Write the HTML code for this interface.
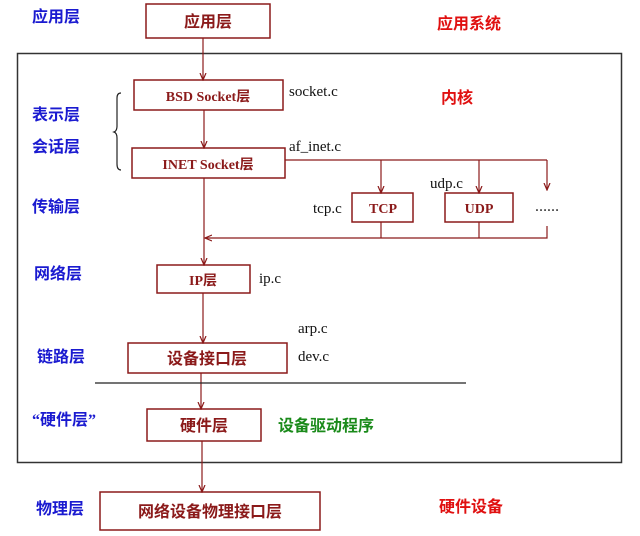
<!DOCTYPE html>
<html><head><meta charset="utf-8"><style>
html,body{margin:0;padding:0;background:#fff;}
svg{display:block;}
.cb{font-family:"Liberation Serif","Noto Sans CJK SC",sans-serif;font-weight:bold;}
.f{font-family:"Liberation Serif",serif;font-size:15px;fill:#111;}
</style></head><body>
<svg width="640" height="536" viewBox="0 0 640 536" xmlns="http://www.w3.org/2000/svg">
<defs><marker id="a" markerWidth="8" markerHeight="8" refX="7" refY="4" orient="auto" markerUnits="userSpaceOnUse"><path d="M0,1 L7,4 L0,7" fill="none" stroke="#8b1a1a" stroke-width="1.2"/></marker></defs>
<rect x="17.5" y="53.5" width="604" height="409" fill="none" stroke="#333" stroke-width="1.5"/>
<g fill="none" stroke="#8b1a1a" stroke-width="1.5">
<rect x="146" y="4" width="124" height="34"/>
<rect x="134" y="80" width="149" height="30"/>
<rect x="132" y="148" width="153" height="30"/>
<rect x="352" y="193" width="61" height="29"/>
<rect x="445" y="193" width="68" height="29"/>
<rect x="157" y="265" width="93" height="28"/>
<rect x="128" y="343" width="159" height="30"/>
<rect x="147" y="409" width="114" height="32"/>
<rect x="100" y="492" width="220" height="38"/>
</g>
<g stroke="#8b1a1a" stroke-width="1.2" fill="none">
<line x1="203" y1="38" x2="203" y2="80" marker-end="url(#a)"/>
<line x1="204" y1="110" x2="204" y2="148" marker-end="url(#a)"/>
<line x1="204" y1="178" x2="204" y2="265" marker-end="url(#a)"/>
<line x1="285" y1="160" x2="547" y2="160"/>
<line x1="381" y1="160" x2="381" y2="193" marker-end="url(#a)"/>
<line x1="479" y1="160" x2="479" y2="193" marker-end="url(#a)"/>
<line x1="547" y1="160" x2="547" y2="190" marker-end="url(#a)"/>
<polyline points="381,222 381,238"/>
<polyline points="479,222 479,238"/>
<polyline points="547,226 547,238 230,238"/>
<line x1="230" y1="238" x2="205" y2="238" marker-end="url(#a)"/>
<line x1="203" y1="293" x2="203" y2="343" marker-end="url(#a)"/>
<line x1="201" y1="373" x2="201" y2="409" marker-end="url(#a)"/>
<line x1="202" y1="441" x2="202" y2="492" marker-end="url(#a)"/>
</g>
<line x1="95" y1="383" x2="466" y2="383" stroke="#222" stroke-width="1.2"/>
<path d="M121,93 Q117,93 117,98 L117,126 Q117,131 114,132 Q117,133 117,138 L117,164 Q117,170 121,170" fill="none" stroke="#222" stroke-width="1.2"/>
<g class="cb" fill="#8b1a1a" font-size="16" text-anchor="middle">
<text x="208" y="27">应用层</text>
<text x="208" y="101" font-size="14">BSD Socket层</text>
<text x="208" y="169" font-size="14">INET Socket层</text>
<text x="383" y="213" font-size="14">TCP</text>
<text x="479" y="213" font-size="14">UDP</text>
<text x="203" y="285" font-size="14">IP层</text>
<text x="207" y="364">设备接口层</text>
<text x="204" y="431">硬件层</text>
<text x="210" y="517">网络设备物理接口层</text>
<text x="547" y="211" font-size="12" fill="#333">……</text>
</g>
<g class="f">
<text x="289" y="96">socket.c</text>
<text x="289" y="151">af_inet.c</text>
<text x="430" y="188">udp.c</text>
<text x="313" y="213">tcp.c</text>
<text x="259" y="283">ip.c</text>
<text x="298" y="333">arp.c</text>
<text x="298" y="361">dev.c</text>
</g>
<g class="cb" fill="#1a1ad0" font-size="16">
<text x="32" y="22">应用层</text>
<text x="32" y="120">表示层</text>
<text x="32" y="152">会话层</text>
<text x="32" y="212">传输层</text>
<text x="34" y="279">网络层</text>
<text x="37" y="362">链路层</text>
<text x="32" y="425">“硬件层”</text>
<text x="36" y="514">物理层</text>
</g>
<g class="cb" font-size="16">
<text x="437" y="29" fill="#e01010">应用系统</text>
<text x="441" y="103" fill="#e01010">内核</text>
<text x="278" y="431" fill="#1a8a1a">设备驱动程序</text>
<text x="439" y="512" fill="#e01010">硬件设备</text>
</g>
</svg>
</body></html>
